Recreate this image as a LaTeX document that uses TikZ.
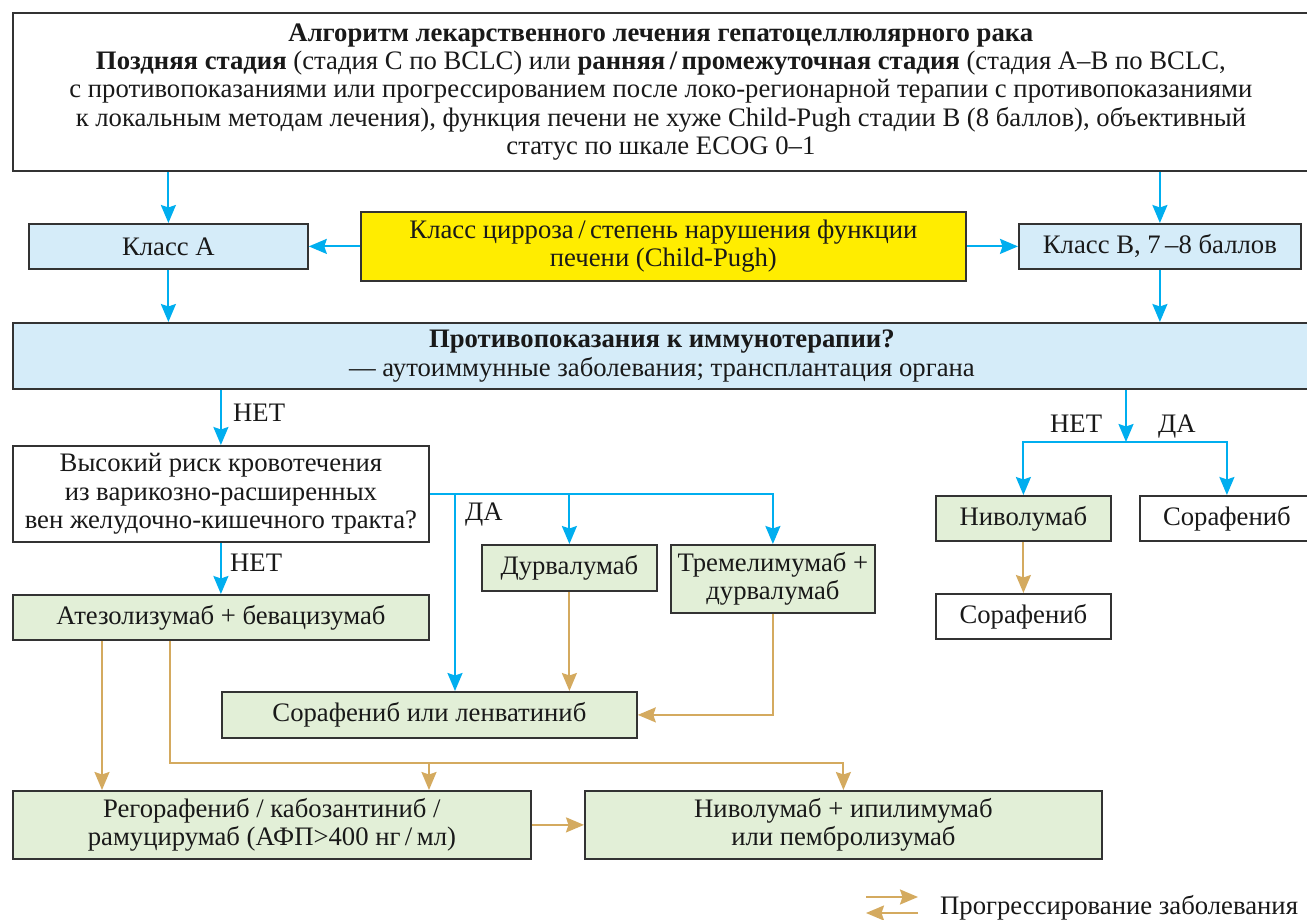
\documentclass[tikz,border=0pt]{standalone}
\usepackage{fontspec}
\setmainfont{Liberation Serif}
\usetikzlibrary{arrows.meta}
\definecolor{lblue}{HTML}{D5ECF9}
\definecolor{lgreen}{HTML}{E2EFD7}
\definecolor{yel}{HTML}{FFED00}
\definecolor{arrblue}{HTML}{00AEEF}
\definecolor{gold}{HTML}{D4AA5F}
\definecolor{boxline}{HTML}{333333}
\newcommand{\fs}{\fontsize{26.7}{28.4}\selectfont}
\tikzset{
  box/.style={draw=boxline, line width=1.8pt, inner sep=0pt, align=center, font=\fs, anchor=north west, text=black!90},
  bluebox/.style={box, fill=lblue},
  greenbox/.style={box, fill=lgreen},
  yelbox/.style={box, fill=yel},
  whitebox/.style={box, fill=white},
  tip/.style={-{Stealth[length=18pt,width=15pt,inset=2.5pt]}},
  bline/.style={draw=arrblue, line width=2pt},
  barrow/.style={bline, tip, arrblue},
  gline/.style={draw=gold, line width=2pt},
  garrow/.style={gline, tip, gold},
  lbl/.style={font=\fs, inner sep=0pt, text=black!90, anchor=base west},
}
\begin{document}
\begin{tikzpicture}[x=1pt,y=-1pt]
\useasboundingbox[fill=white] (0,0) rectangle (1307,920);

% nodes
\node[whitebox, minimum width=1296pt, minimum height=158pt] (top) at (12,12) {%
  \textbf{Алгоритм лекарственного лечения гепатоцеллюлярного рака}\\
  \textbf{Поздняя стадия} (стадия С по BCLC) или \textbf{ранняя\,/\,промежуточная стадия} (стадия А–В по BCLC,\\
  с противопоказаниями или прогрессированием после локо-регионарной терапии с противопоказаниями\\
  к локальным методам лечения), функция печени не хуже Child-Pugh стадии В (8 баллов), объективный\\
  статус по шкале ECOG 0–1};

\node[bluebox, minimum width=279pt, minimum height=45pt] (klA) at (28,223) {Класс А};
\node[yelbox, minimum width=605pt, minimum height=69pt] (yel) at (360,211) {Класс цирроза\,/\,степень нарушения функции\\печени (Child-Pugh)};
\node[bluebox, minimum width=282pt, minimum height=45pt] (klB) at (1018,223) {Класс В, 7\,–8 баллов};

\node[bluebox, minimum width=1298pt, minimum height=66pt] (prot) at (12,322) {%
  \textbf{Противопоказания к иммунотерапии?}\\
  — аутоиммунные заболевания; трансплантация органа};

\node[whitebox, minimum width=416pt, minimum height=96pt] (risk) at (12,445) {Высокий риск кровотечения\\из варикозно-расширенных\\вен желудочно-кишечного тракта?};
\node[greenbox, minimum width=416pt, minimum height=45pt] (atezo) at (12,594) {Атезолизумаб + бевацизумаб};
\node[greenbox, minimum width=175pt, minimum height=46pt] (durv) at (481,544) {Дурвалумаб};
\node[greenbox, minimum width=204pt, minimum height=68pt] (trem) at (670,544) {Тремелимумаб +\\дурвалумаб};
\node[greenbox, minimum width=415pt, minimum height=46pt] (sorlen) at (221,691) {Сорафениб или ленватиниб};
\node[greenbox, minimum width=518pt, minimum height=68pt] (rego) at (12,790) {Регорафениб / кабозантиниб /\\рамуцирумаб (АФП>400 нг\,/\,мл)};
\node[greenbox, minimum width=517pt, minimum height=68pt] (nivip) at (584,790) {Ниволумаб + ипилимумаб\\или пембролизумаб};
\node[greenbox, minimum width=175pt, minimum height=45pt] (nivo) at (935,495) {Ниволумаб};
\node[whitebox, minimum width=174pt, minimum height=45pt] (sorR) at (1139,495) {Сорафениб};
\node[whitebox, minimum width=175pt, minimum height=45pt] (sorB) at (935,593) {Сорафениб};

% blue connectors
\draw[barrow] (top.south -| klA) -- (klA.north);
\draw[barrow] (top.south -| klB) -- (klB.north);
\draw[barrow] (yel.west) -- (klA.east);
\draw[barrow] (yel.east) -- (klB.west);
\draw[barrow] (klA.south) -- (klA.south |- prot.north);
\draw[barrow] (klB.south) -- (klB.south |- prot.north);
\draw[barrow] (risk.north |- prot.south) -- (risk.north);
\node[lbl] (net1) at (233,421) {НЕТ};
\draw[barrow] (risk.south) -- (atezo.north);
\node[lbl] (net2) at (230,571) {НЕТ};
\coordinate (j1) at (455,493);
\draw[barrow] (risk.east) -| (trem.north);
\draw[barrow] (risk.east -| durv) -- (durv.north);
\draw[barrow] (j1) -- (j1 |- sorlen.north);
\node[lbl] (da1) at (465,520) {ДА};
\coordinate (j2) at (1126,442);
\draw[barrow] (j2 |- prot.south) -- (j2);
\draw[barrow] (j2) -| (nivo.north);
\draw[barrow] (j2) -| (sorR.north);
\node[lbl] (net3) at (1050,432) {НЕТ};
\node[lbl] (da2) at (1158,432) {ДА};

% gold connectors
\draw[garrow] (nivo.south) -- (sorB.north);
\draw[garrow] (durv.south) -- (durv.south |- sorlen.north);
\draw[garrow] (trem.south) |- (sorlen.east);
\coordinate (g1) at (102,700);
\draw[garrow] (atezo.south -| g1) -- (rego.north -| g1);
\coordinate (g2) at (170,763);
\coordinate (g3) at (429,763);
\draw[garrow] (atezo.south -| g2) -- (g2) -| (nivip.north);
\draw[garrow] (g3) -- (g3 |- rego.north);
\draw[garrow] (rego.east) -- (nivip.west);

% legend
\coordinate (L1) at (866,897);
\coordinate (L2) at (918,897);
\coordinate (L3) at (918,913);
\coordinate (L4) at (866,913);
\draw[garrow] (L1) -- (L2);
\draw[garrow] (L3) -- (L4);
\node[lbl] (leg) at (940,914) {Прогрессирование заболевания};
\end{tikzpicture}
\end{document}
